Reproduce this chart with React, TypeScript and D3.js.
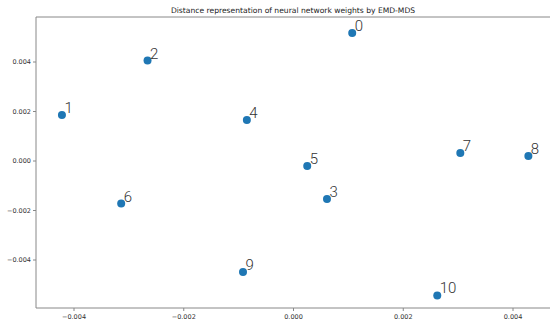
import React from "react";
import * as d3 from "d3";

// MDS coordinates
const labels = ["0", "1", "2", "3", "4", "5", "6", "7", "8", "9", "10"];
const xValues = [0.00107, -0.00422, -0.00266, 0.00061, -0.00085, 0.00025, -0.00314, 0.00304, 0.00428, -0.00092, 0.00262];
const yValues = [0.00517, 0.00186, 0.00406, -0.00154, 0.00166, -0.0002, -0.00172, 0.00032, 0.0002, -0.00448, -0.00543];
const xTicks = [-0.004, -0.002, 0, 0.002, 0.004];
const yTicks = [-0.004, -0.002, 0, 0.002, 0.004];

const width = 550;
const height = 320;
const margin = { top: 17, right: 0, bottom: 12, left: 36 };

const fmt = (v: number) => (v < 0 ? "\u2212" : "") + Math.abs(v).toFixed(3);

export default function App() {
  const xScale = d3.scaleLinear().domain([-0.004, 0.004]).range([74, 513]);
  const yScale = d3.scaleLinear().domain([-0.004, 0.004]).range([260, 62]);
  const plotBottom = height - margin.bottom;

  const points = labels.map((l, i) => ({
    label: l,
    x: xScale(xValues[i]),
    y: yScale(yValues[i])
  }));

  return (
    <svg
      width={width}
      height={height}
      style={{ position: "absolute", left: 0, top: 0, background: "#fff" }}
    >
      <text
        x={(margin.left + width) / 2}
        y={margin.top - 4}
        textAnchor="middle"
        fontFamily="DejaVu Sans, sans-serif"
        fontSize={7.6}
        fill="#222"
      >
        Distance representation of neural network weights by EMD-MDS
      </text>

      {/* spines */}
      <g stroke="#888" strokeWidth={1} fill="none">
        <line x1={margin.left} x2={width} y1={margin.top} y2={margin.top} />
        <line x1={margin.left} x2={margin.left} y1={margin.top} y2={plotBottom} />
        <line x1={margin.left} x2={width} y1={plotBottom} y2={plotBottom} />
      </g>

      {/* x axis */}
      <g fontFamily="DejaVu Sans, sans-serif" fontSize={6.5} fill="#333">
        {xTicks.map(t => (
          <g key={"x" + t} transform={`translate(${xScale(t)},${plotBottom})`}>
            <line y2={3} stroke="#888" />
            <text y={11} textAnchor="middle">
              {fmt(t)}
            </text>
          </g>
        ))}
      </g>

      {/* y axis */}
      <g fontFamily="DejaVu Sans, sans-serif" fontSize={6.5} fill="#333">
        {yTicks.map(t => (
          <g key={"y" + t} transform={`translate(${margin.left},${yScale(t)})`}>
            <line x2={-3} stroke="#888" />
            <text x={-5} dy="0.32em" textAnchor="end">
              {fmt(t)}
            </text>
          </g>
        ))}
      </g>

      {/* points */}
      <g>
        {points.map(p => (
          <g key={p.label}>
            <circle cx={p.x} cy={p.y} r={4} fill="#1f77b4" />
            <text
              x={p.x + 2.5}
              y={p.y - 2}
              fontFamily="Roboto, sans-serif"
              fontWeight={300}
              fontSize={15}
              fill="#333"
            >
              {p.label}
            </text>
          </g>
        ))}
      </g>
    </svg>
  );
}
